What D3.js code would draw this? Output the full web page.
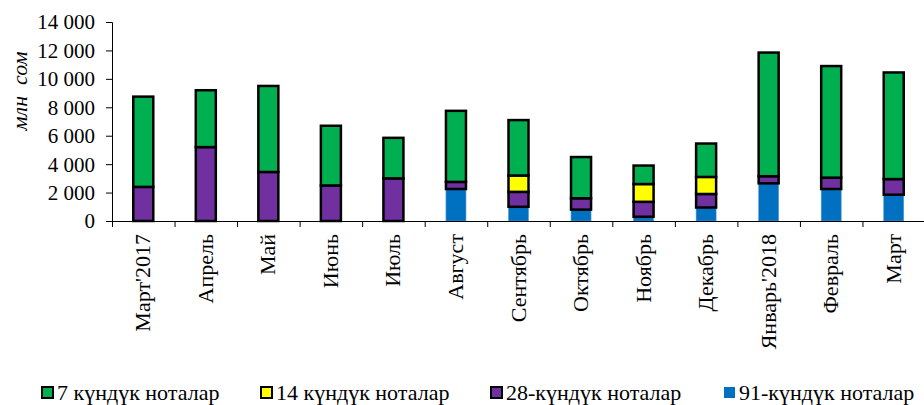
<!DOCTYPE html>
<html>
<head>
<meta charset="utf-8">
<script src="https://cdn.jsdelivr.net/npm/d3@7"></script>
<style>
  body { margin: 0; background: #fff; }
</style>
</head>
<body>
<div id="chart"></div>
<script>
// months on the x axis
var months = ["Март'2017", "Апрель", "Май", "Июнь", "Июль", "Август", "Сентябрь",
  "Октябрь", "Ноябрь", "Декабрь", "Январь'2018", "Февраль", "Март"];

// series values, mln som
var notes91 = [0, 0, 0, 0, 0, 2250, 1000, 800, 300, 950, 2650, 2250, 1850];
var notes28 = [2400, 5200, 3450, 2500, 3000, 500, 1050, 800, 1050, 950, 500, 800, 1100];
var notes14 = [0, 0, 0, 0, 0, 0, 1150, 0, 1250, 1200, 0, 0, 0];
var notes7 = [6350, 4000, 6050, 4200, 2850, 5000, 3900, 2900, 1300, 2350, 8700, 7850, 7500];

var yTicks = [0, 2000, 4000, 6000, 8000, 10000, 12000, 14000];

var seriesKeys = ["n91", "n28", "n14", "n7"];
var seriesNames = {
  n7: "7 күндүк ноталар",
  n14: "14 күндүк ноталар",
  n28: "28-күндүк ноталар",
  n91: "91-күндүк ноталар"
};
var colors = { n91: "#0070c0", n28: "#7030a0", n14: "#ffff00", n7: "#00b050" };
var serif = "'Liberation Serif', 'Times New Roman', serif";

var W = 924, H = 405;
var margin = { top: 22, left: 112, right: -1, bottom: 184 };
var width = W - margin.left - margin.right,
  height = H - margin.top - margin.bottom;

// build table for the stack
var table = months.map(function(m, i) {
  return { month: m, n91: notes91[i], n28: notes28[i], n14: notes14[i], n7: notes7[i] };
});
var stacked = d3.stack().keys(seriesKeys)(table);

var x = d3.scaleBand().domain(months).range([0, width]).paddingInner(0.68).paddingOuter(0.34);
var y = d3.scaleLinear().domain([0, 14000]).range([height, 0]);

var svg = d3.select("#chart").append("svg")
  .attr("width", W)
  .attr("height", H);

var g = svg.append("g")
  .attr("transform", "translate(" + margin.left + "," + margin.top + ")");

var fmt = d3.formatLocale({ decimal: ",", thousands: " ", grouping: [3], currency: ["", ""] }).format(",d");

// y axis
var yAxis = g.append("g")
  .call(d3.axisLeft(y).tickValues(yTicks).tickFormat(fmt).tickSize(6).tickPadding(11));
yAxis.attr("font-family", null).attr("font-size", null);
yAxis.select(".domain").attr("stroke", "#000").attr("stroke-width", 1).attr("d", "M0.5," + height + "V0.5");
yAxis.selectAll(".tick line").attr("stroke", "#000").attr("x1", 0.5);
yAxis.selectAll(".tick text")
  .attr("fill", "#000")
  .attr("dy", "0.33em")
  .style("font-size", "21px")
  .style("font-family", serif);

// y axis title
svg.append("text")
  .attr("transform", "translate(27,91) rotate(-90)")
  .attr("text-anchor", "middle")
  .style("font-size", "22px")
  .style("font-style", "italic")
  .style("font-family", serif)
  .style("white-space", "pre")
  .text("млн  сом");

// bars
var layers = g.selectAll(".layer")
  .data(stacked)
  .enter().append("g")
  .attr("class", "layer");

layers.selectAll("rect")
  .data(function(d) { return d.map(function(v) { v.key = d.key; return v; }); })
  .enter().append("rect")
  .filter(function(d) { return d[1] - d[0] > 0; })
  .attr("x", function(d) { return x(d.data.month); })
  .attr("width", x.bandwidth())
  .attr("y", function(d) { return y(d[1]); })
  .attr("height", function(d) { return y(d[0]) - y(d[1]); })
  .attr("fill", function(d) { return colors[d.key]; })
  .attr("stroke", function(d) { return d.key === "n91" ? "#5b9bd5" : "#000"; })
  .attr("stroke-width", function(d) { return d.key === "n91" ? 0.6 : 2.5; });

// x axis
var step = x.step();
var xAxis = g.append("g").attr("transform", "translate(0," + height + ")");
xAxis.append("line")
  .attr("x1", 0).attr("x2", width)
  .attr("y1", 0.5).attr("y2", 0.5)
  .attr("stroke", "#000");
xAxis.selectAll(".sep")
  .data(d3.range(months.length + 1))
  .enter().append("line")
  .attr("x1", function(i) { return i * step + 0.5; })
  .attr("x2", function(i) { return i * step + 0.5; })
  .attr("y1", 0).attr("y2", 6)
  .attr("stroke", "#000");
xAxis.selectAll(".lbl")
  .data(months)
  .enter().append("text")
  .attr("transform", function(d) {
    return "translate(" + (x(d) + x.bandwidth() / 2 + 7) + ",13) rotate(-90)";
  })
  .attr("text-anchor", "end")
  .style("font-size", "22px")
  .style("font-family", serif)
  .text(function(d) { return d; });

// legend
var legendItems = [
  { key: "n7", x: 42 },
  { key: "n14", x: 261 },
  { key: "n28", x: 491 },
  { key: "n91", x: 724 }
];
var legend = svg.append("g");
var li = legend.selectAll(".li")
  .data(legendItems)
  .enter().append("g")
  .attr("transform", function(d) { return "translate(" + d.x + ",387)"; });
li.append("rect")
  .attr("width", 11).attr("height", 11)
  .attr("fill", function(d) { return colors[d.key]; })
  .attr("stroke", function(d) { return d.key === "n91" ? "none" : "#000"; })
  .attr("stroke-width", 2);
li.append("text")
  .attr("x", 15)
  .attr("y", 13)
  .style("font-size", "22px")
  .style("font-family", serif)
  .text(function(d) { return seriesNames[d.key]; });
</script>
</body>
</html>
